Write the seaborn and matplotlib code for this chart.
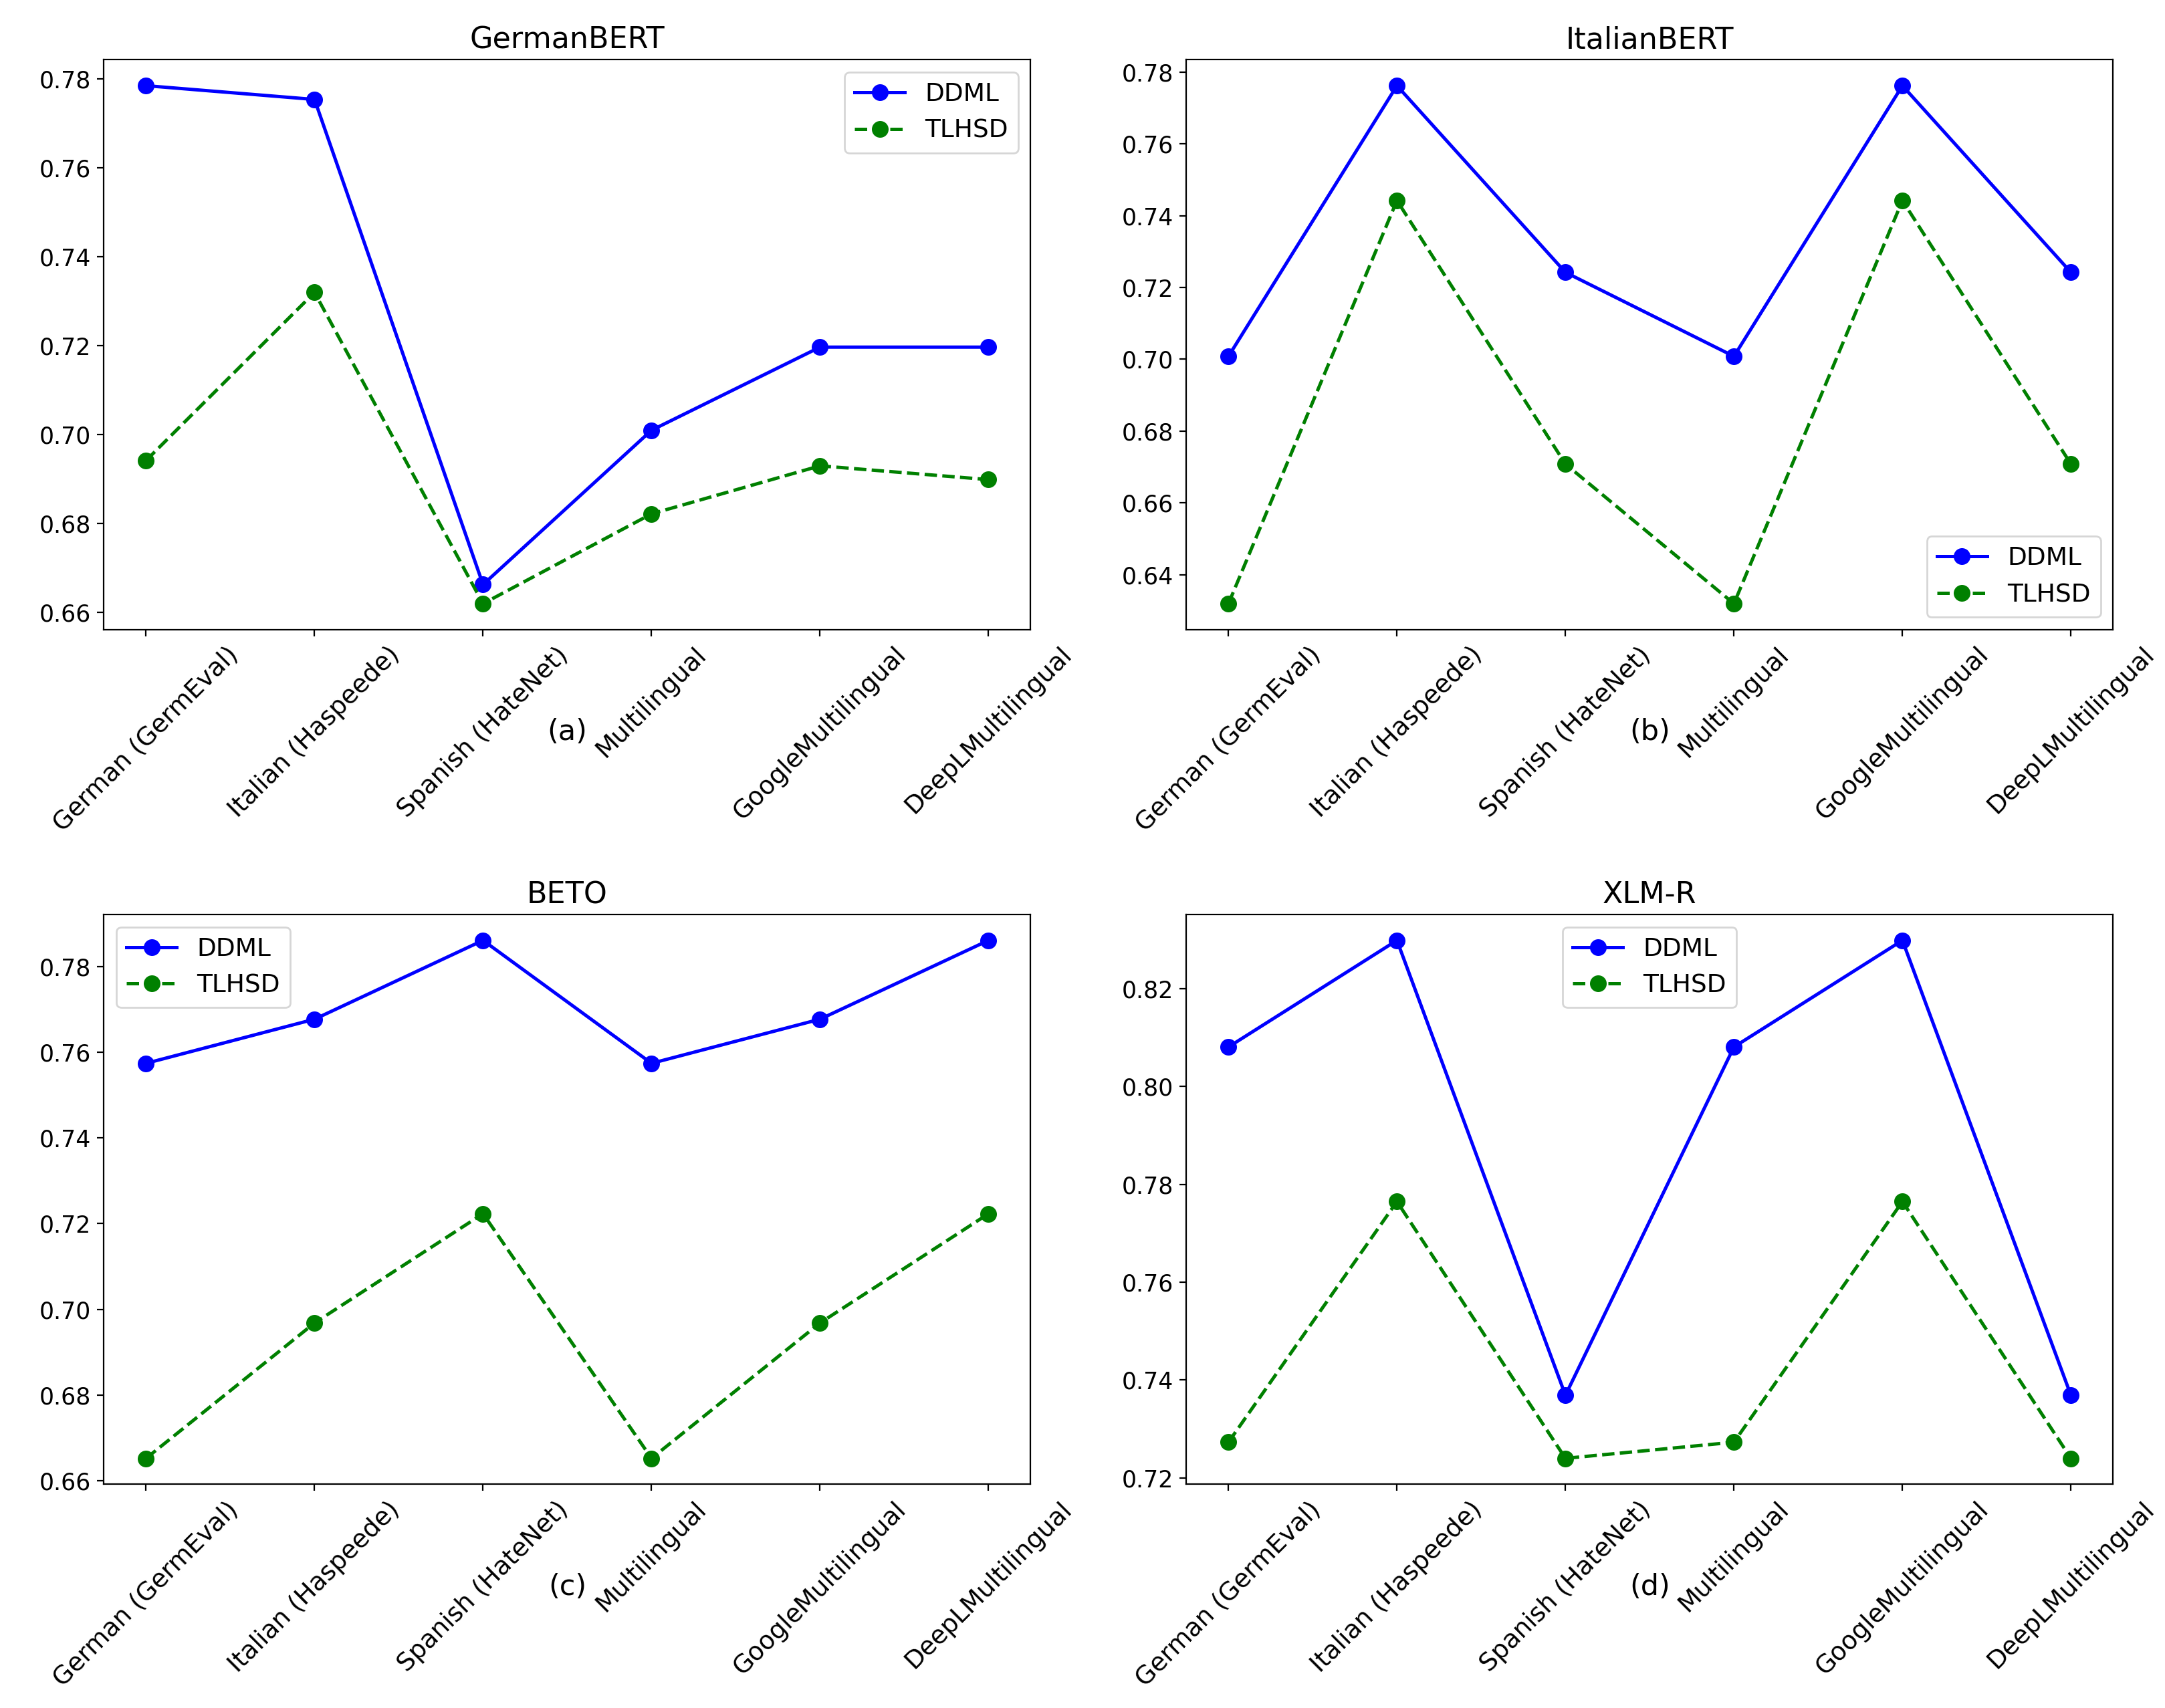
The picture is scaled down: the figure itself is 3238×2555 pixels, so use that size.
import numpy as np
import pandas as pd
import seaborn as sns
import matplotlib
matplotlib.use('Agg')
import matplotlib.pyplot as plt

datasets = ['German (GermEval)', 'Italian (Haspeede)', 'Spanish (HateNet)',
            'Multilingual', 'GoogleMultilingual', 'DeepLMultilingual']

models = ['GermanBERT', 'ItalianBERT', 'BETO', 'XLM-R']
panel_tags = ['(a)', '(b)', '(c)', '(d)']

ddml_german = [0.7784, 0.7753, 0.6662, 0.7009, 0.7196, 0.7196]
tlhsd_german = [0.6941, 0.7319, 0.6619, 0.6821, 0.6929, 0.6898]

ddml_italian = [0.7008, 0.7762, 0.7242, 0.7008, 0.7762, 0.7242]
tlhsd_italian = [0.6319, 0.7442, 0.6708, 0.6319, 0.7442, 0.6708]

ddml_beto = [0.7574, 0.7677, 0.7861, 0.7574, 0.7677, 0.7861]
tlhsd_beto = [0.6652, 0.6968, 0.7223, 0.6652, 0.6968, 0.7223]

ddml_xlmr = [0.8081, 0.8299, 0.7369, 0.8081, 0.8299, 0.7369]
tlhsd_xlmr = [0.7273, 0.7765, 0.7240, 0.7273, 0.7765, 0.7240]

ddml_all = [ddml_german, ddml_italian, ddml_beto, ddml_xlmr]
tlhsd_all = [tlhsd_german, tlhsd_italian, tlhsd_beto, tlhsd_xlmr]
legend_locs = ['upper right', 'lower right', 'upper left', 'upper center']

fig, axes = plt.subplots(nrows=2, ncols=2, figsize=(16.19, 12.775), dpi=200)
plt.subplots_adjust(left=0.048, right=0.976, top=0.965, bottom=0.131,
                    wspace=0.168, hspace=0.50)

for i, ax in enumerate(axes.flat):
    df = pd.DataFrame({'Dataset': datasets, 'DDML': ddml_all[i], 'TLHSD': tlhsd_all[i]})
    sns.lineplot(x='Dataset', y='DDML', data=df, ax=ax, color='blue', marker='o',
                 linestyle='-', markersize=8, markeredgecolor='blue',
                 markeredgewidth=1, linewidth=1.8, label='DDML', sort=False)
    sns.lineplot(x='Dataset', y='TLHSD', data=df, ax=ax, color='green', marker='o',
                 linestyle='--', markersize=8, markeredgecolor='green',
                 markeredgewidth=1, linewidth=1.8, label='TLHSD', sort=False)
    ax.set_title(models[i], fontsize=16)
    ax.set_xlabel('')
    ax.set_ylabel('')
    ax.tick_params(axis='x', labelrotation=45, labelsize=13.5)
    ax.tick_params(axis='y', labelsize=12.5)
    ax.legend(loc=legend_locs[i], fontsize=13.5)
    ax.text(0.5, -0.18, panel_tags[i], transform=ax.transAxes,
            ha='center', va='center', fontsize=15.5)

plt.savefig('out.png', dpi=200)
